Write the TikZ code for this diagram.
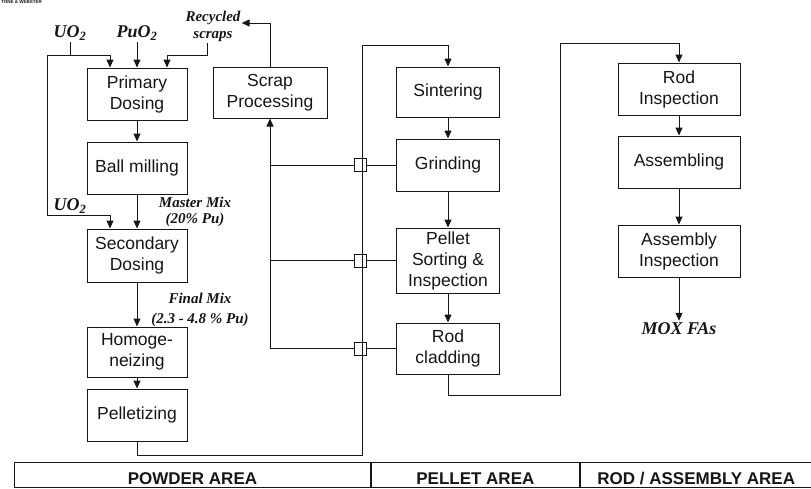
\documentclass[tikz,border=0pt]{standalone}
\usepackage{fontspec}
\setmainfont{Liberation Sans}
\newfontfamily\lblfont{Liberation Serif}
\usetikzlibrary{arrows.meta,positioning,calc}
\definecolor{ink}{HTML}{161616}
\newcommand{\lbl}[1]{{\lblfont\bfseries\itshape #1}}
\tikzset{
  stepbox/.style={draw=ink, line width=1pt, minimum width=100pt, minimum height=52pt,
                  inner sep=2pt, align=center, text=ink, font=\fontsize{17.5}{21}\selectfont},
  midbox/.style={stepbox, minimum width=103pt},
  rodbox/.style={stepbox, minimum width=122pt},
  feedlbl/.style={inner sep=2pt, text=ink, font=\fontsize{18}{20}\selectfont},
  mixlbl/.style={inner sep=1pt, align=center, text=ink, font=\fontsize{15}{18}\selectfont},
  junc/.style={draw=ink, line width=0.9pt, minimum width=12pt, minimum height=13pt, inner sep=0pt},
  areabox/.style={draw=ink, line width=0.9pt, minimum height=25pt, inner sep=0pt,
                  text height=19pt, text depth=0pt, text=ink,
                  font=\fontsize{17}{20}\selectfont\bfseries},
  conn/.style={draw=ink, line width=1pt},
  arr/.style={conn, -{Triangle[length=8pt, width=7pt]}}}

\begin{document}
\begin{tikzpicture}[x=1pt, y=-1pt]
  \useasboundingbox (0,0) rectangle (811,488);
  \node[anchor=west, inner sep=0pt, text=ink, font=\fontsize{4.5}{5}\selectfont\bfseries] (firm) at (1,1.5) {TONE \& WEBSTER};

  % powder line
  \node[stepbox] (pdose) at (137,94) {Primary\\Dosing};
  \node[stepbox] (ball) at (137,168) {Ball milling};
  \node[stepbox, minimum height=53pt] (sdose) at (137,255.5) {Secondary\\Dosing};
  \node[stepbox, minimum height=50pt] (homog) at (137,352) {Homoge-\\neizing};
  \node[stepbox] (pellet) at (137,415) {Pelletizing};
  \node[stepbox, minimum width=114pt, minimum height=51pt] (scrap) at (270,92.5) {Scrap\\Processing};

  % pellet line
  \node[midbox, minimum height=50pt] (sinter) at (448,92) {Sintering};
  \node[midbox] (grind) at (448,165) {Grinding};
  \node[midbox, minimum height=65pt] (psort) at (448,260.5) {Pellet\\Sorting \&\\Inspection};
  \node[midbox, minimum height=51pt] (rclad) at (448,348.5) {Rod\\cladding};

  % rod / assembly line
  \node[rodbox] (rinsp) at (679,89) {Rod\\Inspection};
  \node[rodbox] (assem) at (679,162) {Assembling};
  \node[rodbox] (ainsp) at (679,251) {Assembly\\Inspection};

  \node[feedlbl] (uoa) at (70,33) {\lbl{UO\textsubscript{2}}};
  \node[feedlbl] (puo) at (137,33) {\lbl{PuO\textsubscript{2}}};
  \node[mixlbl, font=\fontsize{15}{17}\selectfont] (recyc) at (213,26) {\lbl{Recycled}\\\lbl{scraps}};
  \node[feedlbl] (uob) at (70,206) {\lbl{UO\textsubscript{2}}};
  \node[mixlbl, font=\fontsize{15}{16}\selectfont] (mmix) at (195,212) {\lbl{Master Mix}\\\lbl{(20\% Pu)}};
  \node[mixlbl, font=\fontsize{15}{20}\selectfont] (fmix) at (200,310) {\lbl{Final Mix}\\\lbl{(2.3 - 4.8 \% Pu)}};
  \node[feedlbl] (mox) at (679,329) {\lbl{MOX FAs}};

  \coordinate (uoj) at (70,55);
  \coordinate (uobend) at (47,215);
  \coordinate (rcj) at (207,55);
  \coordinate (feedB) at (362,455);
  \coordinate (feedT) at (362,45);
  \coordinate (cladB) at (560,395);
  \coordinate (cladT) at (560,43);

  \draw[conn] (uoa.south) -- (uoj);
  \draw[arr] (uoj) -| ([xshift=-27pt]pdose.north);
  \draw[arr] (uoj) -| (uobend) -| ([xshift=-27pt]sdose.north);
  \draw[arr] (puo.south) -- (pdose.north);
  \draw[arr] ([xshift=-6pt]recyc.south) -- (rcj) -| ([xshift=30pt]pdose.north);
  \draw[arr] (pdose) -- (ball);
  \draw[arr] (ball) -- (sdose);
  \draw[arr] (sdose) -- (homog);
  \draw[arr] (homog) -- (pellet);
  \draw[arr] (pellet.south) |- (feedB) -- (feedT) -| (sinter.north);
  \draw[arr] (sinter) -- (grind);
  \draw[arr] (grind) -- (psort);
  \draw[arr] (psort) -- (rclad);
  \draw[arr] (rclad.south) |- (cladB) -- (cladT) -| (rinsp.north);
  \draw[arr] (rinsp) -- (assem);
  \draw[arr] (assem) -- (ainsp);
  \draw[arr] (ainsp) -- (mox);

  % scrap return
  \node[junc] (j1) at (360,165) {};
  \node[junc] (j2) at (360,260.5) {};
  \node[junc] (j3) at (360,348.5) {};
  \draw[conn, line width=0.7pt] (j1.east) -- (grind.west);
  \draw[conn, line width=0.7pt] (j2.east) -- (psort.west);
  \draw[conn, line width=0.7pt] (j3.east) -- (rclad.west);
  \draw[conn] (j1.west) -- (j1.west -| scrap.south);
  \draw[conn] (j2.west) -- (j2.west -| scrap.south);
  \draw[arr] (j3.west) -| (scrap.south);
  \draw[arr] (scrap.north) |- ([yshift=3pt]recyc.east);

  \node[areabox, minimum width=356pt, anchor=north west] (powder) at (14,462) {POWDER AREA};
  \node[areabox, minimum width=208pt, right=0pt of powder] (pelarea) {PELLET AREA};
  \node[areabox, minimum width=232pt, right=0pt of pelarea] (rodarea) {ROD / ASSEMBLY AREA};
\end{tikzpicture}
\end{document}
